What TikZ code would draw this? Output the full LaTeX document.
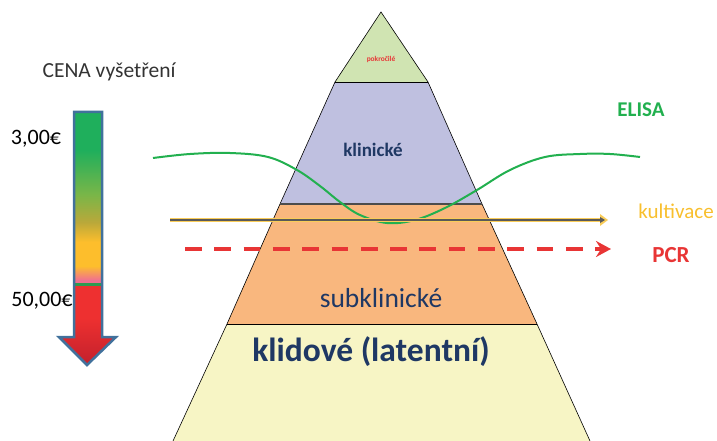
\documentclass[tikz,border=0pt]{standalone}
\usepackage{fontspec}
\setmainfont{Carlito}
\usetikzlibrary{arrows.meta}
\definecolor{lav}{HTML}{BFC0E0}
\definecolor{org}{HTML}{F9B77E}
\definecolor{ylw}{HTML}{F7F5C5}
\definecolor{grn}{HTML}{D0E4B2}
\definecolor{navy}{HTML}{1F3864}
\definecolor{elisa}{HTML}{22B04F}
\definecolor{gold}{HTML}{F8BF2E}
\definecolor{pcr}{HTML}{E83535}
\definecolor{steel}{HTML}{41719C}
\definecolor{txt}{HTML}{333333}
\definecolor{ca}{HTML}{1FAF5C}
\definecolor{cb}{HTML}{7AB648}
\definecolor{cc}{HTML}{B9A83A}
\definecolor{cd}{HTML}{FDBE2C}
\definecolor{ce}{HTML}{F07090}
\definecolor{cf}{HTML}{EE3030}
\definecolor{cg}{HTML}{C2202C}
\definecolor{cline}{HTML}{2E9A50}
\tikzset{
  lbl/.style={inner sep=0pt, anchor=center},
}
\begin{document}
\begin{tikzpicture}[x=1pt,y=-1pt]
\useasboundingbox (0,0) rectangle (717,441);
% pyramid levels
\fill[ylw] (227,324) -- (537,324) -- (590,441) -- (173,441) -- cycle;
\fill[org] (280,204) -- (482,204) -- (537,324) -- (227,324) -- cycle;
\fill[lav] (335,82) -- (428,82) -- (482,204) -- (280,204) -- cycle;
\fill[grn] (381,12) -- (428,82) -- (335,82) -- cycle;
\draw[line width=0.6pt] (173,441) -- (227,324) -- (280,204) -- (335,82) -- (381,12) -- (428,82) -- (482,204) -- (537,324) -- (590,441);
\draw[line width=0.7pt] (335,82) -- (428,82);
\draw[line width=1.8pt, draw=black!70] (280,204) -- (482,204);
\draw[line width=1pt] (227,324) -- (537,324);
% labels
\node[lbl, text=pcr, font=\bfseries\fontsize{7.4}{9}\selectfont] (pok) at (381,59) {pokročilé};
\node[lbl, text=navy, font=\bfseries\fontsize{19}{22}\selectfont] (kl) at (373,150) {klinické};
\node[lbl, text=navy, font=\fontsize{27.5}{32}\selectfont] (sub) at (381,298) {subklinické};
\node[lbl, text=navy, font=\bfseries\fontsize{33.5}{38}\selectfont] (kli) at (371,352) {klidové (latentní)};
% cost arrow
\begin{scope}
\clip (74,112) -- (102,112) -- (102,337) -- (116,337) -- (87,365) -- (59,337) -- (74,337) -- cycle;
\fill[ca] (50,110) rectangle (120,150);
\shade[top color=ca, bottom color=cb] (50,150) rectangle (120,195);
\shade[top color=cb, bottom color=cc] (50,195) rectangle (120,222);
\shade[top color=cc, bottom color=cd] (50,222) rectangle (120,242);
\fill[cd] (50,242) rectangle (120,266);
\shade[top color=cd, bottom color=ce] (50,266) rectangle (120,280);
\fill[ce] (50,280) rectangle (120,283);
\fill[cline] (50,283) rectangle (120,285.5);
\fill[cf] (50,285.5) rectangle (120,318);
\shade[top color=cf, bottom color=cg] (50,318) rectangle (120,366);
\end{scope}
\draw[steel, line width=2.5pt, line join=miter] (74,112) -- (102,112) -- (102,337) -- (116,337) -- (87,365) -- (59,337) -- (74,337) -- cycle;
\node[lbl, text=txt, font=\fontsize{21.5}{25}\selectfont] (cena) at (109,72) {CENA vyšetření};
\node[lbl, text=black, font=\fontsize{22}{26}\selectfont] (p1) at (36,139) {3,00€};
\node[lbl, text=black, font=\fontsize{22}{26}\selectfont] (p2) at (42,301) {50,00€};
% ELISA curve
\draw[elisa, line width=2pt] plot[smooth, tension=0.6] coordinates {(153,158) (190,154) (230,153) (268,157) (297,170) (320,186) (340,202) (360,215) (387,223) (415,220) (445,208) (477,190) (510,170) (545,157) (580,154) (610,154) (640,157)};
\node[lbl, text=elisa, font=\bfseries\fontsize{21}{24}\selectfont] (elisaT) at (641,110) {ELISA};
% kultivace arrow
\coordinate (k1) at (170,220);
\coordinate (k2) at (601,220);
\draw[gold!80, line width=4.5pt] (k1) -- (k2);
\fill[gold!80] (600,214) -- (608,220) -- (600,226) -- cycle;
\draw[black!65, line width=1.3pt] (k1) -- (k2);
\fill[black!65] (600,217) -- (605,220) -- (600,223) -- cycle;
\node[lbl, text=gold, font=\fontsize{21}{24}\selectfont] (kult) at (676,211) {kultivace};
% PCR arrow
\coordinate (q1) at (185,249);
\coordinate (q2) at (611,249);
\draw[pcr, line width=4pt, dash pattern=on 16.7pt off 12.6pt, -{Stealth[length=15pt,width=16pt,inset=5pt]}] (q1) -- (q2);
\node[lbl, text=pcr, font=\bfseries\fontsize{23}{27}\selectfont] (pcrT) at (671,255) {PCR};
\end{tikzpicture}
\end{document}
